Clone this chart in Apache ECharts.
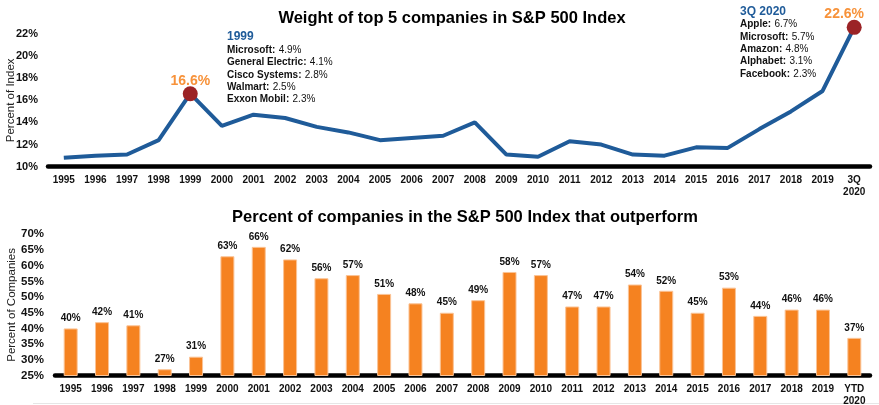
<!DOCTYPE html>
<html>
<head>
<meta charset="utf-8">
<script src="https://cdn.jsdelivr.net/npm/echarts@6/dist/echarts.min.js"></script>
<style>
  html, body { margin: 0; padding: 0; background: #fff; }
  #chart { width: 879px; height: 405px; }
</style>
</head>
<body>
<div id="chart"></div>
<script>
var FONT = '"Liberation Sans", Arial, sans-serif';

// top chart: weight of top 5 companies
var topYears = ['1995','1996','1997','1998','1999','2000','2001','2002','2003','2004','2005','2006','2007',
    '2008','2009','2010','2011','2012','2013','2014','2015','2016','2017','2018','2019','3Q\n2020'];
var top5Weight = [10.8, 11.0, 11.1, 12.4, 16.6, 13.7, 14.7, 14.4, 13.6, 13.1, 12.4, 12.6, 12.8,
    14.0, 11.1, 10.9, 12.3, 12.0, 11.1, 11.0, 11.75, 11.7, 13.4, 15.0, 16.85, 22.6];
var topTicks = [10, 22, 2]; // min, max, step

// bottom chart: percent of companies that outperform
var botYears = ['1995','1996','1997','1998','1999','2000','2001','2002','2003','2004','2005','2006','2007',
    '2008','2009','2010','2011','2012','2013','2014','2015','2016','2017','2018','2019','YTD\n2020'];
var outperform = [40, 42, 41, 27, 31, 63, 66, 62, 56, 57, 51, 48, 45,
    49, 58, 57, 47, 47, 54, 52, 45, 53, 44, 46, 46, 37];
var botTicks = [25, 70, 5];

// callouts
var callout1999 = [['Microsoft', '4.9%'], ['General Electric', '4.1%'], ['Cisco Systems', '2.8%'],
    ['Walmart', '2.5%'], ['Exxon Mobil', '2.3%']];
var callout2020 = [['Apple', '6.7%'], ['Microsoft', '5.7%'], ['Amazon', '4.8%'],
    ['Alphabet', '3.1%'], ['Facebook', '2.3%']];

var BLUE = '#1f5b99', ORANGE = '#f58220', DOTRED = '#9b2326';

function calloutText(head, rows){
    var s = '{h|' + head + '}';
    rows.forEach(function(r){
        s += '\n{b|' + r[0] + ':} {n|' + r[1] + '}';
    });
    return s;
}
var calloutRich = {
    h: { fontSize: 12, fontWeight: 'bold', fill: BLUE, fontFamily: FONT, lineHeight: 14 },
    b: { fontSize: 10, fontWeight: 'bold', fill: '#111', fontFamily: FONT, lineHeight: 12.3 },
    n: { fontSize: 10, fill: '#111', fontFamily: FONT, lineHeight: 12.3 }
};

var myChart = echarts.init(document.getElementById('chart'));

var highlight = [4, 25];
var lineData = top5Weight.map(function(v, i){
    if (highlight.indexOf(i) < 0) return v;
    return {
        value: v,
        symbol: 'circle',
        symbolSize: 15,
        itemStyle: { color: DOTRED },
        label: {
            show: true,
            position: 'top',
            distance: 4,
            offset: i === 25 ? [-10, 5] : [0, 6],
            color: '#f7923a',
            fontSize: 14,
            fontWeight: 'bold',
            fontFamily: FONT,
            formatter: '{c}%'
        }
    };
});

var axisLabelBold = { color: '#111', fontWeight: 'bold', fontFamily: FONT };

var option = {
    animation: false,
    grid: [
        { left: 48, right: 9, top: 34, bottom: 238.3, containLabel: false, outerBoundsMode: 'none' },
        { left: 55, right: 9, top: 234.3, bottom: 29.5, containLabel: false, outerBoundsMode: 'none' }
    ],
    xAxis: [{
        type: 'category',
        data: topYears,
        gridIndex: 0,
        axisLine: { lineStyle: { color: '#000', width: 4.5 } },
        axisTick: { show: false },
        axisLabel: Object.assign({ fontSize: 10, margin: 8, lineHeight: 12, interval: 0 }, axisLabelBold)
    }, {
        type: 'category',
        data: botYears,
        gridIndex: 1,
        axisLine: { lineStyle: { color: '#000', width: 4.5 } },
        axisTick: { show: false },
        axisLabel: Object.assign({ fontSize: 10, margin: 8, lineHeight: 12, interval: 0 }, axisLabelBold)
    }],
    yAxis: [{
        type: 'value',
        gridIndex: 0,
        min: topTicks[0], max: topTicks[1], interval: topTicks[2],
        name: 'Percent of Index',
        nameLocation: 'middle',
        nameGap: 31,
        nameMoveOverlap: false,
        nameTextStyle: { fontSize: 11.5, color: '#222', fontFamily: FONT },
        axisLine: { show: false },
        axisTick: { show: false },
        splitLine: { show: false },
        axisLabel: Object.assign({ fontSize: 11, margin: 10, formatter: '{value}%' }, axisLabelBold)
    }, {
        type: 'value',
        gridIndex: 1,
        min: botTicks[0], max: botTicks[1], interval: botTicks[2],
        name: 'Percent of Companies',
        nameLocation: 'middle',
        nameGap: 37,
        nameMoveOverlap: false,
        nameTextStyle: { fontSize: 11.5, color: '#222', fontFamily: FONT },
        axisLine: { show: false },
        axisTick: { show: false },
        splitLine: { show: false },
        axisLabel: Object.assign({ fontSize: 11.5, margin: 11, formatter: '{value}%' }, axisLabelBold)
    }],
    series: [{
        type: 'line',
        xAxisIndex: 0,
        yAxisIndex: 0,
        symbol: 'none',
        clip: false,
        lineStyle: { color: BLUE, width: 4 },
        itemStyle: { color: BLUE },
        data: lineData,
        z: 3
    }, {
        type: 'bar',
        xAxisIndex: 1,
        yAxisIndex: 1,
        barWidth: 14,
        itemStyle: { color: ORANGE, borderColor: '#fbc497', borderWidth: 1 },
        label: {
            show: true,
            position: 'top',
            distance: 5,
            color: '#111',
            fontSize: 10,
            fontWeight: 'bold',
            fontFamily: FONT,
            formatter: '{c}%'
        },
        data: outperform
    }],
    graphic: [{
        type: 'text',
        x: 452, y: 18,
        style: {
            text: 'Weight of top 5 companies in S&P 500 Index',
            fontSize: 16.5, fontWeight: 'bold', fontFamily: FONT, fill: '#000',
            align: 'center', verticalAlign: 'middle'
        }
    }, {
        type: 'text',
        x: 465, y: 217,
        style: {
            text: 'Percent of companies in the S&P 500 Index that outperform',
            fontSize: 16.5, fontWeight: 'bold', fontFamily: FONT, fill: '#000',
            align: 'center', verticalAlign: 'middle'
        }
    }, {
        type: 'text',
        left: 227, top: 31,
        style: { text: calloutText('1999', callout1999), rich: calloutRich }
    }, {
        type: 'text',
        left: 740, top: 5.5,
        style: { text: calloutText('3Q 2020', callout2020), rich: calloutRich }
    }, {
        type: 'line',
        shape: { x1: 33, y1: 403.5, x2: 879, y2: 403.5 },
        style: { stroke: '#e6e6e6', lineWidth: 1 }
    }]
};

myChart.setOption(option);
</script>
</body>
</html>
